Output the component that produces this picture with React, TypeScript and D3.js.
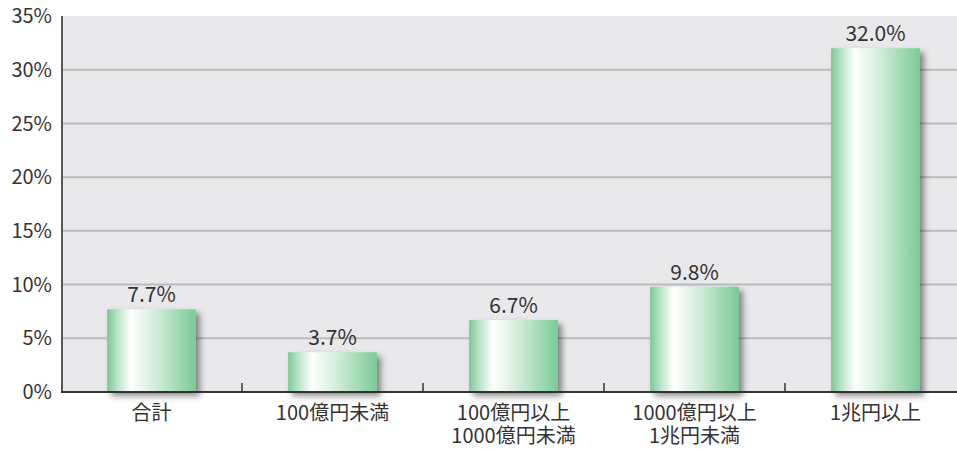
import React from "react";
import * as d3 from "d3";

const categories: string[][] = [
  ["合計"],
  ["100億円未満"],
  ["100億円以上", "1000億円未満"],
  ["1000億円以上", "1兆円未満"],
  ["1兆円以上"],
];
const values: number[] = [7.7, 3.7, 6.7, 9.8, 32.0];
const yTicks: number[] = [0, 5, 10, 15, 20, 25, 30, 35];

const W = 957;
const H = 450;
const left = 62;
const top = 16;
const bottom = 392;
const bandRight = 966;
const FONT = "'Noto Sans CJK JP', 'Noto Sans', sans-serif";

export default function App() {
  const x = d3
    .scaleBand<number>()
    .domain(values.map((_, i) => i))
    .range([left - 1, bandRight])
    .paddingInner(0)
    .paddingOuter(0);
  const y = d3.scaleLinear().domain([0, 35]).range([bottom, top]);
  const bw = x.bandwidth() * 0.49;

  return (
    <svg
      width={W}
      height={H}
      style={{ position: "absolute", left: 0, top: 0, background: "#fff" }}
      fontFamily={FONT}
    >
      <defs>
        <linearGradient id="barGrad" x1="0" x2="1" y1="0" y2="0">
          <stop offset="0%" stopColor="#79c995" />
          <stop offset="10%" stopColor="#b4e0c3" />
          <stop offset="27%" stopColor="#ffffff" />
          <stop offset="55%" stopColor="#d2edda" />
          <stop offset="100%" stopColor="#7bca96" />
        </linearGradient>
        <filter id="shadow" x="-20%" y="-20%" width="150%" height="150%">
          <feDropShadow dx="4" dy="4" stdDeviation="3" floodColor="#000" floodOpacity="0.45" />
        </filter>
      </defs>
      <rect x={left} y={top} width={W - left} height={bottom - top} fill="#e9e9eb" />
      {yTicks.slice(1, -1).map((t) => (
        <line key={t} x1={left} x2={W} y1={y(t)} y2={y(t)} stroke="#bcbcbe" strokeWidth={2} />
      ))}
      {yTicks.map((t) => (
        <text
          key={"l" + t}
          x={52}
          y={y(t)}
          dy="0.36em"
          textAnchor="end"
          fontSize={20}
          fill="#333"
        >
          {t}%
        </text>
      ))}
      {values.map((v, i) => {
        const cx = (x(i) as number) + x.bandwidth() / 2;
        return (
          <g key={"b" + i}>
            <rect
              x={cx - bw / 2}
              y={y(v)}
              width={bw}
              height={bottom - y(v)}
              fill="url(#barGrad)"
              filter="url(#shadow)"
            />
            <text x={cx} y={y(v) - 7} textAnchor="middle" fontSize={21} fill="#333">
              {v.toFixed(1)}%
            </text>
          </g>
        );
      })}
      <line x1={left} x2={left} y1={top} y2={bottom} stroke="#555" strokeWidth={2} />
      <line x1={left - 1} x2={W} y1={bottom} y2={bottom} stroke="#333" strokeWidth={2} />
      {values.slice(1).map((_, i) => {
        const tx = x(i + 1) as number;
        return <line key={"t" + i} x1={tx} x2={tx} y1={bottom} y2={bottom - 9} stroke="#333" strokeWidth={1.5} />;
      })}
      {categories.map((lines, i) => {
        const cx = (x(i) as number) + x.bandwidth() / 2;
        return lines.map((ln, j) => (
          <text
            key={"c" + i + "-" + j}
            x={cx}
            y={420 + j * 23}
            textAnchor="middle"
            fontSize={20}
            fill="#333"
          >
            {ln}
          </text>
        ));
      })}
    </svg>
  );
}
